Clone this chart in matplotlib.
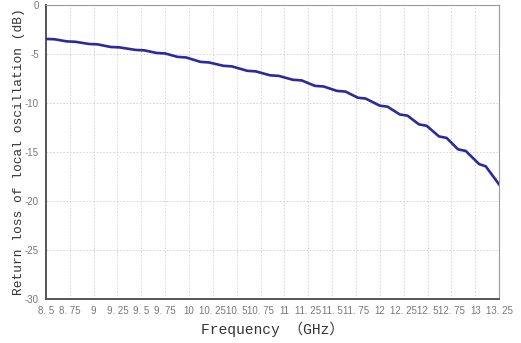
import matplotlib.pyplot as plt

# Data (plateau start/end of each ripple)
freq = [8.50, 8.59,
        8.72, 8.81,
        8.95, 9.04,
        9.18, 9.27,
        9.44, 9.53,
        9.66, 9.75,
        9.88, 9.97,
        10.12, 10.21,
        10.36, 10.45,
        10.61, 10.70,
        10.85, 10.94,
        11.09, 11.18,
        11.32, 11.41,
        11.55, 11.64,
        11.77, 11.85,
        12.00, 12.08,
        12.21, 12.29,
        12.41, 12.49,
        12.62, 12.70,
        12.82, 12.90,
        13.04, 13.11,
        13.25]
loss = [-3.45, -3.48,
        -3.70, -3.74,
        -3.96, -4.00,
        -4.27, -4.31,
        -4.57, -4.61,
        -4.88, -4.93,
        -5.28, -5.34,
        -5.79, -5.85,
        -6.19, -6.25,
        -6.70, -6.76,
        -7.16, -7.22,
        -7.62, -7.68,
        -8.24, -8.30,
        -8.75, -8.82,
        -9.45, -9.53,
        -10.26, -10.36,
        -11.16, -11.28,
        -12.17, -12.31,
        -13.40, -13.55,
        -14.72, -14.88,
        -16.22, -16.45,
        -18.30]

xticks = [8.5, 8.75, 9, 9.25, 9.5, 9.75, 10, 10.25, 10.5, 10.75, 11,
          11.25, 11.5, 11.75, 12, 12.25, 12.5, 12.75, 13, 13.25]
xtick_labels = ['8. 5', '8. 75', '9', '9. 25', '9. 5', '9. 75', '10', '10. 25', '10. 5',
                '10. 75', '11', '11. 25', '11. 5', '11. 75', '12', '12. 25', '12. 5',
                '12. 75', '13', '13. 25']
yticks = [0, -5, -10, -15, -20, -25, -30]
ytick_labels = ['0', '-5', '-10', '-15', '-20', '-25', '-30']

fig = plt.figure(figsize=(5.21, 3.43), dpi=100)
ax = fig.add_axes([0.088, 0.128, 0.870, 0.857])

ax.plot(freq, loss, color='#2a2a9c', linewidth=1.9, solid_joinstyle='round', zorder=3)

ax.set_xlim(8.5, 13.25)
ax.set_ylim(-30, 0)
ax.set_xticks(xticks)
ax.set_xticklabels(xtick_labels, family='Liberation Sans')
ax.set_yticks(yticks)
ax.set_yticklabels(ytick_labels, family='Liberation Sans')
ax.tick_params(length=0, labelsize=7, labelcolor='#777777', pad=5)

ax.grid(True, color='#d0d0d0', linestyle=(0, (2, 2)), linewidth=0.6)

ax.spines['left'].set_color('#555555')
ax.spines['bottom'].set_color('#555555')
ax.spines['left'].set_linewidth(1.4)
ax.spines['bottom'].set_linewidth(1.4)
ax.spines['top'].set_color('#999999')
ax.spines['right'].set_color('#999999')

ax.set_xlabel('Frequency （GHz）', fontsize=10.5, color='#333333',
              family=['Liberation Mono', 'Noto Sans CJK SC'], labelpad=4)
ax.set_ylabel('Return loss of local oscillation (dB)', fontsize=9.3, color='#333333',
              family=['Liberation Mono', 'Noto Sans CJK SC'], labelpad=0)

fig.savefig('out.png', dpi=100)
